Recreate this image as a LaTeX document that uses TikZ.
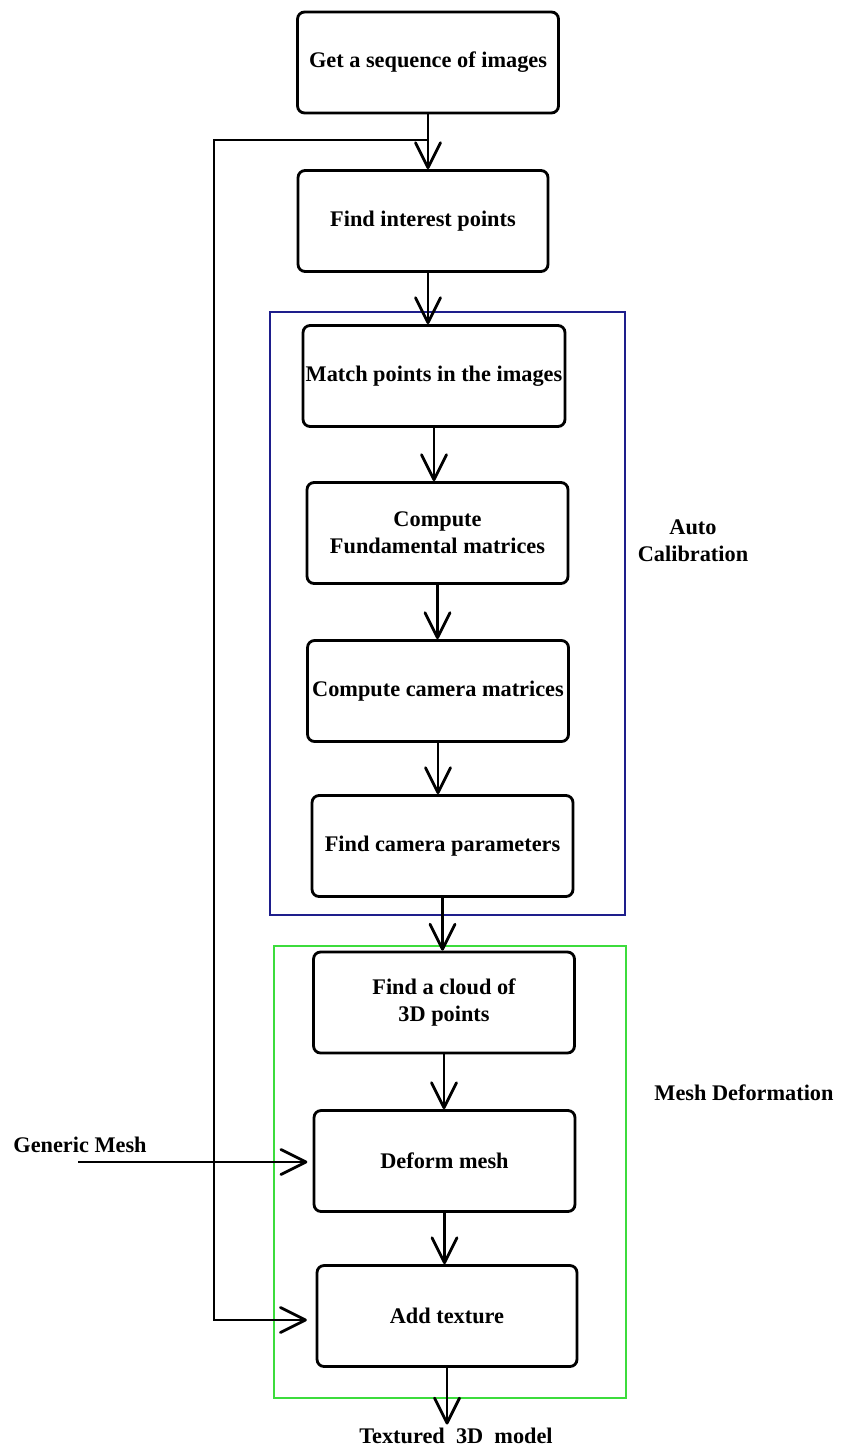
\documentclass[tikz,border=0pt]{standalone}
\usepackage{fontspec}
\setmainfont{Liberation Serif}
\usetikzlibrary{arrows.meta, calc}

\definecolor{calibblue}{RGB}{30,30,140}
\definecolor{meshgreen}{RGB}{60,220,60}

\begin{document}
\begin{tikzpicture}[x=0.02cm, y=-0.02cm, >={Straight Barb[length=5mm, width=5mm, round]},
    stepbox/.style={draw, line width=1.6pt, rounded corners=4pt, minimum width=5.22cm,
      minimum height=2.02cm, inner sep=0pt, align=center,
      font=\fontsize{12.7}{15.6}\selectfont\bfseries},
    lbl/.style={inner sep=0pt, align=center, font=\fontsize{12.7}{15.6}\selectfont\bfseries},
    flow/.style={->, line width=1.6pt}]
    \useasboundingbox (0,0) rectangle (841,1453);

    % frames
    \draw[calibblue, line width=1.6pt] (270,312) rectangle (625,915);
    \draw[meshgreen, line width=1.6pt] (274,946) rectangle (626,1398);

    % steps
    \node[stepbox] (seq) at (428,62.5) {Get a sequence of images};
    \node[stepbox, minimum width=5.0cm] (interest) at (423,221) {Find interest points};
    \node[stepbox, minimum width=5.24cm] (match) at (434,376) {Match points in the images};
    \node[stepbox] (fund) at (437.5,533) {Compute\\Fundamental matrices};
    \node[stepbox] (cammat) at (438,691) {Compute camera matrices};
    \node[stepbox] (campar) at (442.5,846) {Find camera parameters};
    \node[stepbox] (cloud) at (444,1002.5) {Find a cloud of\\3D points};
    \node[stepbox] (deform) at (444.5,1161) {Deform mesh};
    \node[stepbox, minimum width=5.2cm] (texture) at (447,1316) {Add texture};

    % labels
    \node[lbl] (autocal) at (693,541) {Auto\\Calibration};
    \node[lbl] (meshdef) at (744,1093) {Mesh Deformation};
    \node[lbl] (generic) at (80,1145) {Generic Mesh};
    \node[lbl, anchor=north] (model) at (456,1428) {Textured\hspace{0.5em}3D\hspace{0.5em}model};

    \coordinate (fbtop) at (214,140);
    \coordinate (fbbot) at (214,1320);
    \coordinate (meshin) at (78,1162);

    % arrows
    \draw[flow] (seq) -- (seq |- interest.north);
    \draw[flow] (interest.south -| seq) -- (seq |- match.north);
    \draw[flow] (match) -- (match |- fund.north);
    \draw[flow] (fund) -- (fund |- cammat.north);
    \draw[flow] (cammat) -- (cammat |- campar.north);
    \draw[flow] (campar) -- (campar |- cloud.north);
    \draw[flow] (cloud) -- (cloud |- deform.north);
    \draw[flow] (deform) -- (deform |- texture.north);
    \draw[flow, shorten >=2pt] (texture) -- (texture |- model.north);
    \draw[flow, shorten >=3pt] (meshin) -- (meshin -| deform.west);
    \draw[flow, line join=miter, shorten >=5pt] (seq |- fbtop) -- (fbtop) -- (fbbot) -- (fbbot -| texture.west);
\end{tikzpicture}
\end{document}
